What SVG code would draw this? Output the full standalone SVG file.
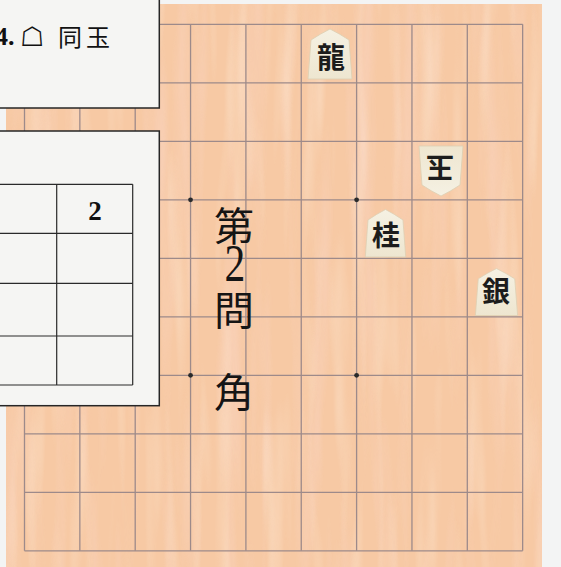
<svg xmlns="http://www.w3.org/2000/svg" width="561" height="567" viewBox="0 0 561 567">
<defs>
<style>
.grid line{stroke:#9d8a8a;stroke-width:1.3}
.tbl line{stroke:#2a2a2a;stroke-width:1.2}
.box{fill:#f5f5f3;stroke:#262626;stroke-width:1.5}
.pc{fill:url(#pg);stroke:#dccfb2;stroke-width:0.8;stroke-linejoin:round}
.pt{font-family:"Noto Sans CJK JP","Noto Sans CJK SC",sans-serif;font-size:28px;font-weight:700;fill:#1c1c1c;text-anchor:middle}
.vt{font-family:"Noto Sans CJK JP","Noto Sans CJK SC",serif;font-size:40px;fill:#151515;text-anchor:middle}
.dot{fill:#2a2a2a}
</style>
<linearGradient id="pg" x1="0" y1="0" x2="0" y2="1">
<stop offset="0" stop-color="#f5f1e3"/>
<stop offset="1" stop-color="#eee6d0"/>
</linearGradient>
<path id="piece" d="M0,0 Q10,5 19,11 L22,50 L-22,50 L-19,11 Q-10,5 0,0 Z"/>
<filter id="grain" x="0" y="0" width="100%" height="100%">
<feTurbulence type="fractalNoise" baseFrequency="0.045 0.0035" numOctaves="3" seed="7"/>
<feColorMatrix type="matrix" values="0 0 0 0 0.95  0 0 0 0 0.66  0 0 0 0 0.54  1.8 0 0 0 -0.85"/>
</filter>
<filter id="grain2" x="0" y="0" width="100%" height="100%">
<feTurbulence type="fractalNoise" baseFrequency="0.06 0.005" numOctaves="2" seed="21"/>
<feColorMatrix type="matrix" values="0 0 0 0 0.99  0 0 0 0 0.87  0 0 0 0 0.75  0 1.6 0 0 -0.8"/>
</filter>
</defs>
<rect width="561" height="567" fill="#f3f4f4"/>
<g id="board">
<rect x="6" y="4" width="536" height="563" fill="#f7c9a4"/>
<rect x="6" y="4" width="536" height="563" filter="url(#grain)" opacity="0.75"/>
<rect x="6" y="4" width="536" height="563" filter="url(#grain2)" opacity="0.6"/>
<g class="grid">
<line x1="24.5" y1="24.3" x2="24.5" y2="550.8"/>
<line x1="79.85" y1="24.3" x2="79.85" y2="550.8"/>
<line x1="135.2" y1="24.3" x2="135.2" y2="550.8"/>
<line x1="190.55" y1="24.3" x2="190.55" y2="550.8"/>
<line x1="245.9" y1="24.3" x2="245.9" y2="550.8"/>
<line x1="301.25" y1="24.3" x2="301.25" y2="550.8"/>
<line x1="356.6" y1="24.3" x2="356.6" y2="550.8"/>
<line x1="411.95" y1="24.3" x2="411.95" y2="550.8"/>
<line x1="467.3" y1="24.3" x2="467.3" y2="550.8"/>
<line x1="522.65" y1="24.3" x2="522.65" y2="550.8"/>
<line x1="24.5" y1="24.3" x2="522.65" y2="24.3"/>
<line x1="24.5" y1="82.8" x2="522.65" y2="82.8"/>
<line x1="24.5" y1="141.3" x2="522.65" y2="141.3"/>
<line x1="24.5" y1="199.8" x2="522.65" y2="199.8"/>
<line x1="24.5" y1="258.3" x2="522.65" y2="258.3"/>
<line x1="24.5" y1="316.8" x2="522.65" y2="316.8"/>
<line x1="24.5" y1="375.3" x2="522.65" y2="375.3"/>
<line x1="24.5" y1="433.8" x2="522.65" y2="433.8"/>
<line x1="24.5" y1="492.3" x2="522.65" y2="492.3"/>
<line x1="24.5" y1="550.8" x2="522.65" y2="550.8"/>
</g>
<circle class="dot" cx="190.55" cy="199.8" r="2.4"/>
<circle class="dot" cx="356.6" cy="199.8" r="2.4"/>
<circle class="dot" cx="190.55" cy="375.3" r="2.4"/>
<circle class="dot" cx="356.6" cy="375.3" r="2.4"/>
</g>
<g id="piece-ryu">
<use href="#piece" class="pc" transform="translate(330,29)"/>
<text class="pt" x="331" y="68">龍</text>
</g>
<g id="piece-gyoku">
<use href="#piece" class="pc" transform="translate(441,196) rotate(180)"/>
<text class="pt" transform="translate(440,168) rotate(180)" x="0" y="10.6">玉</text>
</g>
<g id="piece-kei">
<use href="#piece" class="pc" transform="translate(385.5,209.5) scale(0.92,0.95)"/>
<text class="pt" x="386" y="246">桂</text>
</g>
<g id="piece-gin">
<use href="#piece" class="pc" transform="translate(496.5,268.5) scale(0.96,0.94)"/>
<text class="pt" x="496" y="302">銀</text>
</g>
<g id="title">
<text class="vt" x="234" y="241">第</text>
<text x="235" y="281" font-family="Liberation Serif, serif" font-size="52" fill="#151515" text-anchor="middle" transform="translate(235,0) scale(0.8,1) translate(-235,0)">2</text>
<text class="vt" x="234" y="325">問</text>
<text class="vt" x="234" y="407">角</text>
</g>
<g id="move-box">
<rect class="box" x="-2" y="-2" width="161.3" height="110"/>
<text x="-5" y="45" font-family="Liberation Serif, serif" font-weight="700" font-size="26" fill="#111">4.</text>
<text x="32" y="46" font-family="DejaVu Sans, sans-serif" font-weight="700" font-size="27" fill="#111" text-anchor="middle">☖</text>
<text x="58" y="46" font-family="Noto Sans CJK JP, Noto Sans CJK SC, serif" font-size="24" letter-spacing="4" fill="#111">同玉</text>
</g>
<g id="table-box">
<rect class="box" x="-2" y="131" width="161.3" height="274.7"/>
<g class="tbl">
<line x1="-2" y1="184.3" x2="132.7" y2="184.3"/>
<line x1="-2" y1="233.3" x2="132.7" y2="233.3"/>
<line x1="-2" y1="283.3" x2="132.7" y2="283.3"/>
<line x1="-2" y1="336" x2="132.7" y2="336"/>
<line x1="-2" y1="385" x2="132.7" y2="385"/>
<line x1="56.7" y1="184.3" x2="56.7" y2="385"/>
<line x1="132.7" y1="184.3" x2="132.7" y2="385"/>
</g>
<text x="95" y="220" font-family="Liberation Serif, serif" font-weight="700" font-size="27" fill="#111" text-anchor="middle">2</text>
</g>
</svg>
